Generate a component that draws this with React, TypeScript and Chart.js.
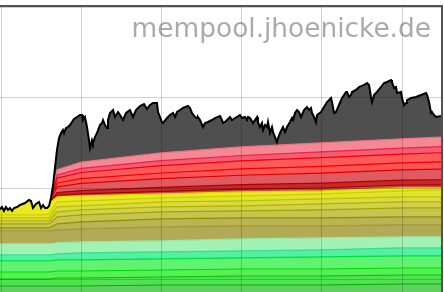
import { useEffect, useRef } from "react";
import { Chart, registerables } from "chart.js";

Chart.register(...registerables);

// time axis (hours) for the fee-level layers
const layerTimes = [-0.2, 5, 6, 7, 10, 20, 30, 40, 50, 55.2];

// fee-level layer sizes (MB), bottom to top
const g1 = [9.34, 9.34, 9.34, 9.34, 9.34, 9.45, 9.45, 9.45, 9.56, 9.56];
const g2 = [0.77, 0.77, 0.77, 0.88, 0.88, 0.88, 0.99, 0.99, 0.99, 0.99];
const g3 = [0.77, 0.77, 0.77, 0.77, 0.77, 0.77, 0.77, 0.77, 0.77, 0.77];
const g4 = [1.21, 1.21, 1.21, 1.21, 1.21, 1.21, 1.21, 1.32, 1.32, 1.32];
const g5 = [0.66, 0.66, 0.66, 0.66, 0.77, 0.77, 0.77, 0.77, 0.88, 0.88];
const g6 = [1.21, 1.21, 1.21, 1.21, 1.21, 1.21, 1.32, 1.32, 1.21, 1.21];
const o1 = [1.43, 1.43, 1.43, 1.43, 1.43, 1.54, 1.43, 1.32, 1.32, 1.32];
const o2 = [0.33, 0.33, 0.33, 0.66, 0.77, 0.88, 0.88, 0.88, 0.88, 0.88];
const o3 = [0.44, 0.44, 0.44, 0.77, 0.77, 0.77, 0.77, 0.88, 0.99, 0.99];
const y1 = [0.33, 0.33, 0.33, 0.55, 0.55, 0.55, 0.55, 0.66, 0.66, 0.66];
const y2 = [0.33, 0.33, 0.33, 0.55, 0.44, 0.55, 0.55, 0.55, 0.55, 0.55];
const y3 = [0.33, 0.33, 0.44, 0.55, 0.55, 0.44, 0.55, 0.55, 0.66, 0.77];
const y4 = [1.65, 1.54, 1.21, 0.55, 0.55, 0.44, 0.44, 0.33, 0.33, 0.22];
const r1 = [0, 0, 0, 0.18, 0.22, 0.27, 0.3, 0.32, 0.32, 0.34];
const r2 = [0, 0, 0, 0.3, 0.37, 0.45, 0.49, 0.53, 0.54, 0.56];
const r3 = [0, 0, 0, 0.63, 0.78, 0.95, 1.04, 1.11, 1.13, 1.18];
const r4 = [0, 0, 0, 0.42, 0.53, 0.63, 0.69, 0.74, 0.76, 0.78];
const r5 = [0, 0, 0, 0.54, 0.67, 0.81, 0.89, 0.95, 0.97, 1.01];
const r6 = [0, 0, 0, 0.35, 0.45, 0.54, 0.59, 0.64, 0.65, 0.67];
const r7 = [0, 0, 0, 0.56, 0.71, 0.86, 0.95, 1.0, 1.02, 1.07];

// total mempool size (MB) over time
const totalTimes = [
  -0.25, 0.12, 0.37, 0.62, 0.87, 1.12, 1.37, 1.62, 2.0, 2.37, 2.99, 3.49, 3.74, 3.99, 4.36, 4.74, 4.99, 5.24, 5.49, 5.74,
  5.99, 6.23, 6.48, 6.73, 6.98, 7.23, 7.48, 7.73, 7.86, 8.1, 8.35, 8.6, 8.85, 9.1, 9.48, 9.85, 10.1, 10.22, 10.47, 10.72,
  10.97, 11.1, 11.35, 11.47, 11.72, 11.97, 12.34, 12.59, 12.72, 12.97, 13.22, 13.34, 13.59, 13.97, 14.21, 14.59, 14.84,
  15.21, 15.59, 16.08, 16.46, 16.83, 17.33, 17.83, 18.2, 18.58, 18.95, 19.45, 19.58, 20.07, 20.2, 20.7, 21.07, 21.45,
  21.7, 21.95, 22.32, 22.69, 23.32, 23.57, 23.82, 24.19, 24.44, 24.56, 24.81, 25.19, 25.44, 25.81, 26.31, 26.68, 27.31,
  27.56, 27.68, 27.93, 28.55, 28.8, 29.18, 29.8, 30.05, 30.42, 30.67, 30.8, 31.05, 31.42, 31.67, 31.92, 32.04, 32.29,
  32.54, 32.67, 32.92, 33.17, 33.29, 33.54, 33.79, 33.92, 34.16, 34.41, 34.54, 34.79, 35.16, 35.41, 35.66, 36.03, 36.28,
  36.41, 36.66, 36.91, 37.16, 37.41, 37.78, 38.15, 38.4, 38.65, 38.78, 39.03, 39.28, 39.4, 39.9, 40.27, 40.65, 41.15,
  41.27, 41.52, 41.77, 42.14, 42.52, 43.02, 43.14, 43.39, 43.64, 43.77, 44.26, 44.64, 45.26, 45.64, 45.89, 46.13, 46.26,
  46.51, 46.88, 47.38, 47.76, 48.13, 48.63, 48.75, 49.0, 49.25, 49.38, 49.88, 50.0, 50.25, 50.5, 50.62, 51.12, 51.75,
  52.37, 52.99, 53.12, 53.37, 53.62, 53.74, 53.99, 54.24, 54.86, 55.36,
];
const totalMB = [
  17.69, 18.02, 17.58, 18.02, 17.69, 17.91, 17.58, 17.91, 18.02, 18.24, 18.46, 18.79, 18.68, 17.91, 18.35, 18.57, 17.91,
  18.24, 17.91, 17.91, 18.13, 19.01, 20.33, 22.31, 24.29, 25.6, 26.15, 26.48, 26.15, 26.7, 26.81, 27.03, 27.36, 27.69,
  27.91, 28.13, 28.13, 27.58, 27.91, 26.81, 25.38, 24.5, 25.38, 25.05, 25.71, 26.15, 27.03, 27.25, 27.58, 27.03, 26.7,
  27.58, 28.35, 28.68, 27.91, 28.46, 28.13, 27.58, 28.35, 28.68, 27.91, 28.68, 29.12, 29.34, 28.79, 29.23, 29.45, 29.45,
  28.46, 27.36, 27.25, 27.8, 28.13, 28.35, 27.91, 28.46, 28.68, 28.9, 29.12, 28.9, 28.35, 27.91, 27.8, 27.91, 27.58,
  26.81, 27.25, 27.36, 27.58, 27.8, 28.02, 27.58, 27.25, 27.36, 27.91, 27.58, 27.8, 28.13, 27.8, 27.91, 27.58, 27.91,
  27.8, 27.25, 27.58, 27.91, 27.36, 26.81, 27.25, 26.48, 27.03, 26.81, 27.36, 26.15, 26.81, 26.26, 25.71, 25.16, 25.6,
  26.15, 26.81, 26.26, 26.81, 27.36, 27.8, 27.58, 28.35, 28.68, 28.46, 27.91, 28.68, 29.01, 28.68, 28.9, 28.35, 27.91,
  27.36, 28.13, 28.46, 29.01, 29.56, 30.0, 29.56, 28.35, 28.46, 29.23, 30.0, 30.66, 30.66, 30.11, 30.33, 30.66, 30.88,
  31.21, 31.43, 31.65, 31.43, 30.11, 29.56, 30.33, 30.66, 31.21, 31.65, 31.76, 31.98, 31.76, 31.1, 31.21, 30.55, 30.66,
  30.0, 29.23, 29.45, 29.78, 30.0, 30.11, 30.33, 30.55, 30.33, 29.56, 28.35, 28.46, 28.13, 27.91, 28.02, 28.13,
];

const gridTimes = [0, 10, 20, 30, 40, 50];
const gridMB = [10, 20, 30, 40];
const watermark = "mempool.jhoenicke.de";

const layerStyles = [
  { values: g1, fill: "#60d060", line: "#00b400" },
  { values: g2, fill: "#50e252", line: "#00c800" },
  { values: g3, fill: "#56f056", line: "#00dc00" },
  { values: g4, fill: "#62f272", line: "#00e040" },
  { values: g5, fill: "#52f0a0", line: "#38e08c" },
  { values: g6, fill: "#a2f2b6", line: "#94ecaa" },
  { values: o1, fill: "#b2aa54", line: "#a29a40" },
  { values: o2, fill: "#bab452", line: "#949000" },
  { values: o3, fill: "#c8c452", line: "#a8a400" },
  { values: y1, fill: "#d2d04c", line: "#b4b400" },
  { values: y2, fill: "#dada42", line: "#c2c200" },
  { values: y3, fill: "#e2e230", line: "#d0d000" },
  { values: y4, fill: "#eaea22", line: "#dcdc00" },
  { values: r1, fill: "#c84848", line: "#a80000" },
  { values: r2, fill: "#c42a2a", line: "#b00000" },
  { values: r3, fill: "#e05a62", line: "#e00000" },
  { values: r4, fill: "#ff5454", line: "#f00000" },
  { values: r5, fill: "#ff5a5a", line: "#f00010" },
  { values: r6, fill: "#f45c72", line: "#f02050" },
  { values: r7, fill: "#f48894", line: "#f07080" },
];

const framePlugin = {
  id: "frame",
  afterDatasetsDraw(chart: any) {
    const { ctx, chartArea } = chart;
    ctx.save();
    ctx.font = '26.4px "DejaVu Sans"';
    ctx.fillStyle = "#aaaaaa";
    ctx.textAlign = "right";
    ctx.textBaseline = "alphabetic";
    ctx.fillText(watermark, chartArea.right - 10, chartArea.top + 30);
    ctx.restore();
  },
  afterDraw(chart: any) {
    const { ctx, chartArea } = chart;
    ctx.save();
    ctx.fillStyle = "#525252";
    ctx.fillRect(0, chartArea.top - 2, chartArea.right + 2, 2);
    ctx.fillRect(chartArea.right, chartArea.top - 2, 2, chartArea.bottom - chartArea.top + 2);
    ctx.restore();
  },
};

export default function App() {
  const ref = useRef<HTMLCanvasElement | null>(null);

  useEffect(() => {
    if (!ref.current) return;
    const totalPoints = totalTimes.map((x, i) => ({ x, y: totalMB[i] }));
    const datasets: any[] = [];
    datasets.push({
      label: "gray",
      data: totalPoints,
      stack: "g",
      order: 3,
      fill: "origin",
      backgroundColor: "#4f4f4f",
      borderWidth: 0,
      borderColor: "rgba(0,0,0,0)",
      pointRadius: 0,
    });
    layerStyles.forEach((l, idx) => {
      datasets.push({
        label: "layer" + idx,
        data: layerTimes.map((x, i) => ({ x, y: l.values[i] })),
        stack: "fee",
        order: 2,
        fill: idx === 0 ? "origin" : "-1",
        backgroundColor: l.fill,
        borderColor: l.line,
        borderWidth: 1.2,
        pointRadius: 0,
      });
    });
    datasets.push({
      label: "total",
      data: totalPoints,
      stack: "t",
      order: 1,
      fill: "end",
      backgroundColor: "#ffffff",
      borderColor: "#000000",
      borderWidth: 2,
      pointRadius: 0,
    });

    const gridStyle = { color: "rgba(0,0,0,0.18)", lineWidth: 1, drawTicks: false, z: 1 };
    const chart = new Chart(ref.current, {
      type: "line",
      data: { datasets },
      options: {
        animation: false,
        responsive: false,
        devicePixelRatio: 1,
        layout: { padding: { top: 7, right: 3, left: 0, bottom: 0 } },
        elements: { line: { tension: 0 } },
        plugins: { legend: { display: false }, tooltip: { enabled: false } },
        scales: {
          x: {
            type: "linear",
            min: -0.125,
            max: 54.86,
            ticks: { display: false },
            grid: gridStyle,
            border: { display: false },
            afterBuildTicks: (s: any) => {
              s.ticks = gridTimes.map((v) => ({ value: v }));
            },
          },
          y: {
            type: "linear",
            stacked: true,
            min: 8.68,
            max: 40,
            ticks: { display: false },
            grid: gridStyle,
            border: { display: false },
            afterBuildTicks: (s: any) => {
              s.ticks = gridMB.map((v) => ({ value: v }));
            },
          },
        },
      } as any,
      plugins: [framePlugin],
    });
    return () => chart.destroy();
  }, []);

  return (
    <div style={{ position: "fixed", left: 0, top: 0, width: 444, height: 292, background: "#fff" }}>
      <canvas ref={ref} width={444} height={292} style={{ display: "block" }} />
    </div>
  );
}
